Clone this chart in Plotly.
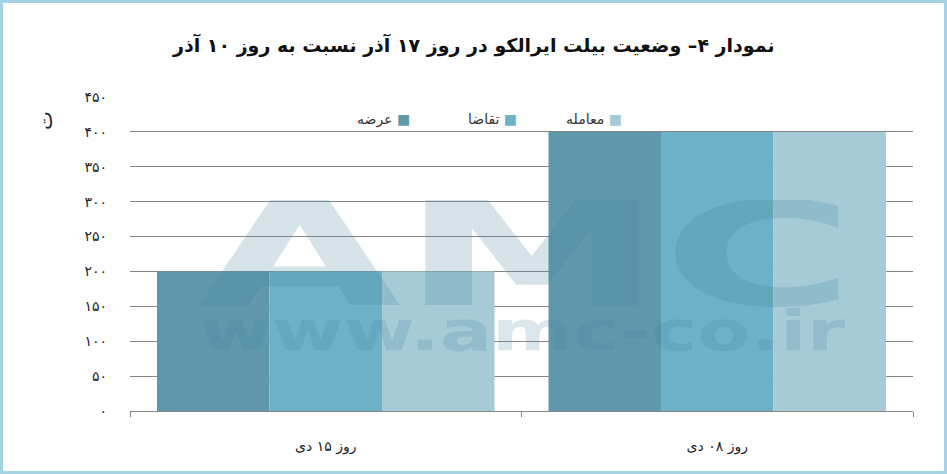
import base64
import plotly.graph_objects as go

categories = ["روز ۱۵ دی", "روز ۰۸ دی"]
series_names = ["عرضه", "تقاضا", "معامله"]
supply = [200, 400]
demand = [200, 400]
deals = [200, 400]
series_values = [supply, demand, deals]
colors = ["#5e98aa", "#6cb1c6", "#a6cbd7"]
y_tickvals = [0, 50, 100, 150, 200, 250, 300, 350, 400, 450]
y_ticktext = ["۰", "۵۰", "۱۰۰", "۱۵۰", "۲۰۰", "۲۵۰", "۳۰۰", "۳۵۰", "۴۰۰", "۴۵۰"]
title_text = "نمودار ۴– وضعیت بیلت ایرالکو در روز ۱۷ آذر نسبت به روز ۱۰ آذر"
unit_text = "ت"

FONT = "DejaVu Sans"

fig = go.Figure()
for name, vals, col in zip(series_names, series_values, colors):
    fig.add_trace(go.Bar(x=categories, y=vals, name=name, marker=dict(color=col, line=dict(width=0)),
                         showlegend=False, hoverinfo="skip"))

# plot area in pixels: x 130..913, y 97..411
L, R, T, B = 130, 34, 97, 63
W, H = 947, 474
pw, ph = W - L - R, H - T - B

def px(xp):
    return (xp - L) / pw

def py(yp):
    return (H - B - yp) / ph

annotations = [
    dict(text="<b>" + title_text + "</b>", x=px(473), y=py(45), xref="paper", yref="paper",
         showarrow=False, font=dict(family=FONT, size=19, color="#111"), xanchor="center", yanchor="middle"),
    dict(text=unit_text, x=px(45), y=py(121), xref="paper", yref="paper", showarrow=False,
         textangle=-90, font=dict(family=FONT, size=20, color="#222"), xanchor="center", yanchor="middle"),
]
legend_x = [383, 492, 594]
for name, col, lx in zip(series_names, colors, legend_x):
    annotations.append(dict(
        text=name + " <span style='color:%s'>■</span>" % col,
        x=px(lx), y=py(119), xref="paper", yref="paper", showarrow=False,
        font=dict(family=FONT, size=14, color="#333"), xanchor="center", yanchor="middle"))

svg = (
    "<svg xmlns='http://www.w3.org/2000/svg' width='657' height='155' viewBox='0 0 657 155'>"
    "<text x='0' y='105' font-family='DejaVu Sans' font-weight='bold' font-size='144' "
    "textLength='657' lengthAdjust='spacingAndGlyphs' fill='rgb(70,130,160)' fill-opacity='0.22'>AMC</text>"
    "<text x='2' y='150' font-family='DejaVu Sans' font-weight='bold' font-size='56' "
    "textLength='645' lengthAdjust='spacingAndGlyphs' fill='rgb(70,130,160)' fill-opacity='0.2'>www.amc-co.ir</text>"
    "</svg>"
)
src = "data:image/svg+xml;base64," + base64.b64encode(svg.encode("utf-8")).decode("ascii")

fig.update_layout(
    width=W, height=H,
    margin=dict(l=L, r=R, t=T, b=B, pad=0),
    paper_bgcolor="white", plot_bgcolor="white",
    barmode="group", bargap=0.138, bargroupgap=0,
    font=dict(family=FONT, size=13, color="#222"),
    annotations=annotations,
    images=[dict(source=src, xref="paper", yref="paper", x=px(198), y=py(200),
                 sizex=657 / pw, sizey=155 / ph, xanchor="left", yanchor="top",
                 sizing="stretch", layer="above", opacity=1)],
    shapes=[dict(type="rect", xref="paper", yref="paper",
                 x0=px(1.5), x1=px(945.5), y0=py(472.5), y1=py(1.5),
                 line=dict(color="#a3d2e2", width=3), fillcolor="rgba(0,0,0,0)", layer="below")],
)
fig.update_xaxes(
    showline=True, linecolor="#868686", linewidth=1,
    ticks="outside", tickson="boundaries", ticklen=5, tickcolor="#868686",
    showgrid=False, ticklabelstandoff=22,
    tickfont=dict(family=FONT, size=14, color="#222"),
)
fig.update_yaxes(
    range=[0, 450], tickvals=y_tickvals, ticktext=y_ticktext,
    showgrid=True, gridcolor="#868686", gridwidth=1, zeroline=False, showline=False,
    ticks="", ticklabelstandoff=22,
    tickfont=dict(family=FONT, size=14, color="#222"),
)

fig.write_html("out.html", config={"displayModeBar": False},
               post_script="document.body.style.margin='0';document.body.style.overflow='hidden';")
